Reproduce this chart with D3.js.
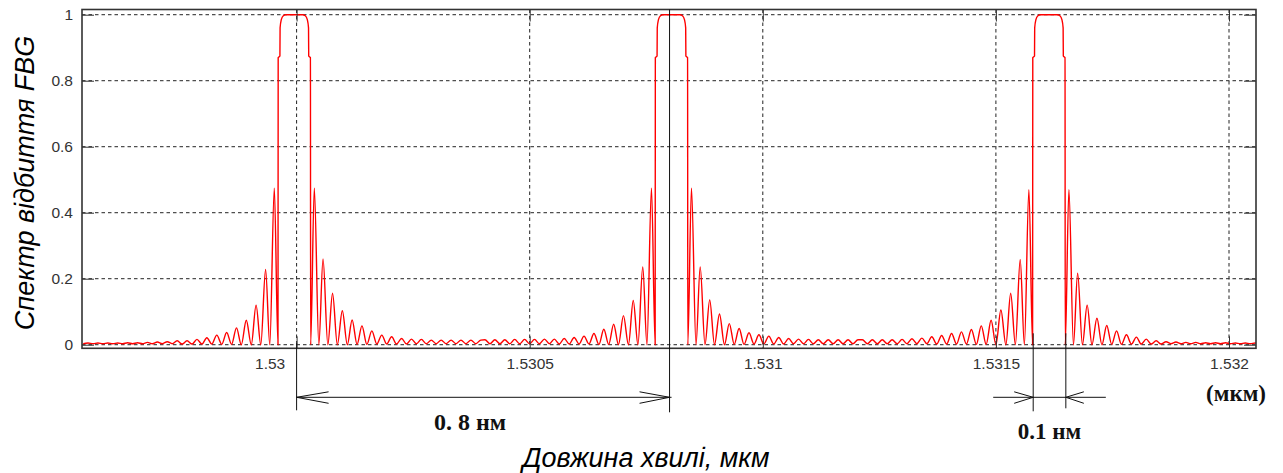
<!DOCTYPE html>
<html>
<head>
<meta charset="utf-8">
<script src="https://cdn.jsdelivr.net/npm/d3@7"></script>
<style>
  html, body { margin: 0; padding: 0; background: #fff; }
  svg { display: block; }
</style>
</head>
<body>
<svg id="chart"></svg>
<script>
// FBG reflection spectrum, three gratings 0.8 nm apart

// band centres, µm
const peakCentersUm = [1.5299951, 1.5308041, 1.5316137];

// flat top of each band: offset from band centre (nm) and reflectance
const mainOffsetsNm = [-0.0350, -0.0346, -0.0309, -0.0305, -0.0279, -0.0236, -0.0182,
                       0.0182, 0.0236, 0.0279, 0.0305, 0.0309, 0.0346, 0.0350];
const mainValues = [0.0, 0.87, 0.875, 0.96, 0.985, 0.997, 1.0,
                    1.0, 0.997, 0.985, 0.96, 0.875, 0.87, 0.0];

// side lobe maxima / minima, distance from band centre (nm)
const lobeOffsetsNm = [0.0429, 0.0616, 0.0820, 0.1030, 0.1240, 0.1451, 0.1663, 0.1876, 0.2088, 0.2301,
                       0.2513, 0.2725, 0.2938, 0.3150, 0.3363, 0.3575, 0.3788, 0.4000, 0.4213, 0.4425];
const nullOffsetsNm = [0.0526, 0.0719, 0.0923, 0.1137, 0.1346, 0.1556, 0.1770, 0.1981, 0.2193, 0.2406,
                       0.2618, 0.2833, 0.3043, 0.3255, 0.3468, 0.3680, 0.3893, 0.4105, 0.4318, 0.4528];
const nullValues = [0, 0, 0, 0, 0.001, 0.001, 0.002, 0.002, 0.002, 0.002,
                    0.003, 0.003, 0.003, 0.003, 0.003, 0.003, 0.003, 0.003, 0.003, 0.003];

// side lobe heights, from the band outward
const lobesLeft1 = [0.474, 0.228, 0.120, 0.074, 0.051, 0.037, 0.029, 0.021, 0.016, 0.012, 0.012, 0.009, 0.008, 0.007, 0.006, 0.006, 0.005, 0.005, 0.005, 0.005];
const lobesRight1 = [0.474, 0.260, 0.156, 0.103, 0.075, 0.057, 0.042, 0.029, 0.024, 0.019, 0.017, 0.016, 0.014, 0.014, 0.014, 0.014, 0.014, 0.014];
const lobesLeft2 = [0.474, 0.236, 0.134, 0.088, 0.062, 0.047, 0.034, 0.026, 0.022, 0.019, 0.017, 0.017, 0.016, 0.016, 0.016, 0.015, 0.015, 0.015];
const lobesRight2 = [0.474, 0.236, 0.136, 0.093, 0.064, 0.049, 0.036, 0.030, 0.026, 0.022, 0.019, 0.017, 0.016, 0.015, 0.015, 0.015, 0.015, 0.015];
const lobesLeft3 = [0.470, 0.258, 0.156, 0.105, 0.074, 0.057, 0.046, 0.039, 0.034, 0.028, 0.024, 0.020, 0.018, 0.016, 0.015, 0.015, 0.015, 0.015];
const lobesRight3 = [0.470, 0.217, 0.120, 0.080, 0.058, 0.042, 0.030, 0.023, 0.017, 0.012, 0.009, 0.008, 0.007, 0.007, 0.006, 0.006, 0.006, 0.005, 0.005, 0.005];
const lobesLeft = [lobesLeft1, lobesLeft2, lobesLeft3];
const lobesRight = [lobesRight1, lobesRight2, lobesRight3];

// axes
const xDomain = [1.5295397, 1.5320579];
const yDomain = [-0.0109, 1.0158];
const xTicks = [1.53, 1.5305, 1.531, 1.5315, 1.532];
const xTickLabels = ["1.53", "1.5305", "1.531", "1.5315", "1.532"];
const yTicks = [0, 0.2, 0.4, 0.6, 0.8, 1];
const yTickLabels = ["0", "0.2", "0.4", "0.6", "0.8", "1"];

// dimension marks under the plot
const spacingMarksUm = [1.5300, 1.5308];
const widthMarksUm = [1.53158, 1.53165];
const spacingLabel = "0. 8 нм";
const widthLabel = "0.1 нм";
const unitLabel = "(мкм)";
const xTitle = "Довжина хвилі, мкм";
const yTitle = "Спектр відбиття FBG";

const width = 1283, height = 473;
const margin = { top: 9.5, right: 27, bottom: 124.7, left: 82 };
const plotBottom = height - margin.bottom;
const plotRight = width - margin.right;

const svg = d3.select("#chart").attr("width", width).attr("height", height);

const x = d3.scaleLinear().domain(xDomain).range([margin.left, plotRight]);
const y = d3.scaleLinear().domain(yDomain).range([plotBottom, margin.top]);

const ink = "#333";
const sans = "'Liberation Sans', Arial, sans-serif";
const serif = "'Liberation Serif', 'Times New Roman', serif";

// grid
const grid = svg.append("g").attr("class", "grid")
    .attr("stroke", "#222").attr("stroke-width", 1).attr("stroke-dasharray", "3.5,3");
grid.selectAll(".gx").data(xTicks).enter().append("line")
    .attr("x1", d => x(d)).attr("x2", d => x(d))
    .attr("y1", margin.top).attr("y2", plotBottom);
grid.selectAll(".gy").data(yTicks).enter().append("line")
    .attr("x1", margin.left).attr("x2", plotRight)
    .attr("y1", d => y(d)).attr("y2", d => y(d));

// spectrum points: band top + side lobes, each band cut at the midpoint to its neighbours
const points = [];
peakCentersUm.forEach(function (c, i) {
    const lo = i > 0 ? (peakCentersUm[i - 1] + c) / 2 : -Infinity;
    const hi = i < peakCentersUm.length - 1 ? (peakCentersUm[i + 1] + c) / 2 : Infinity;
    const local = [];
    mainOffsetsNm.forEach(function (o, k) { local.push([c + o / 1000, mainValues[k]]); });
    lobesLeft[i].forEach(function (h, k) {
        local.push([c - lobeOffsetsNm[k] / 1000, h]);
        local.push([c - nullOffsetsNm[k] / 1000, nullValues[k]]);
    });
    lobesRight[i].forEach(function (h, k) {
        local.push([c + lobeOffsetsNm[k] / 1000, h]);
        local.push([c + nullOffsetsNm[k] / 1000, nullValues[k]]);
    });
    local.forEach(function (p) { if (p[0] > lo && p[0] < hi) points.push(p); });
});
points.sort((a, b) => a[0] - b[0]);

svg.append("clipPath").attr("id", "plot-clip").append("rect")
    .attr("x", margin.left).attr("y", margin.top)
    .attr("width", plotRight - margin.left).attr("height", plotBottom - margin.top);

const line = d3.line().x(d => x(d[0])).y(d => y(d[1])).curve(d3.curveMonotoneX);
svg.append("path")
    .datum(points)
    .attr("clip-path", "url(#plot-clip)")
    .attr("fill", "none")
    .attr("stroke", "#ff0000")
    .attr("stroke-width", 1.4)
    .attr("stroke-linejoin", "round")
    .attr("d", line);

// axes with inward ticks on all four sides
function styleAxis(g) {
    g.select(".domain").remove();
    g.selectAll(".tick line").attr("stroke", ink);
    g.selectAll(".tick text").attr("fill", ink).attr("font-family", sans).attr("font-size", "15.5px");
}
svg.append("g")
    .attr("transform", "translate(0," + plotBottom + ")")
    .call(d3.axisBottom(x).tickValues(xTicks).tickSizeInner(-12).tickSizeOuter(0).tickPadding(10)
        .tickFormat((d, i) => xTickLabels[i]))
    .call(styleAxis)
    // the original label of 1.53 sits left of its marker line
    .call(g => g.selectAll(".tick text").attr("dx", d => d === 1.53 ? -27 : 0));
svg.append("g")
    .attr("transform", "translate(0," + margin.top + ")")
    .call(d3.axisTop(x).tickValues(xTicks).tickSizeInner(-12).tickSizeOuter(0).tickFormat(""))
    .call(styleAxis);
svg.append("g")
    .attr("transform", "translate(" + margin.left + ",0)")
    .call(d3.axisLeft(y).tickValues(yTicks).tickSizeInner(-12).tickSizeOuter(0).tickPadding(9)
        .tickFormat((d, i) => yTickLabels[i]))
    .call(styleAxis);
svg.append("g")
    .attr("transform", "translate(" + plotRight + ",0)")
    .call(d3.axisRight(y).tickValues(yTicks).tickSizeInner(-12).tickSizeOuter(0).tickFormat(""))
    .call(styleAxis);

svg.append("rect")
    .attr("x", margin.left).attr("y", margin.top)
    .attr("width", plotRight - margin.left).attr("height", plotBottom - margin.top)
    .attr("fill", "none").attr("stroke", ink).attr("stroke-width", 1.6);

// dimension marks
const marks = svg.append("g").attr("stroke", "#111").attr("stroke-width", 1).attr("fill", "none");
const arrowY = plotBottom + 49;

function arrowHead(tipX, dir, len) {
    // dir = +1 points right, -1 points left
    marks.append("path")
        .attr("d", "M" + (tipX - dir * len) + "," + (arrowY - 5.5) + "L" + tipX + "," + arrowY +
            "L" + (tipX - dir * len) + "," + (arrowY + 6));
}

// 0.8 nm between neighbouring bands
marks.append("line")
    .attr("x1", x(spacingMarksUm[0])).attr("x2", x(spacingMarksUm[0]))
    .attr("y1", plotBottom - 5).attr("y2", plotBottom + 62);
marks.append("line")
    .attr("x1", x(spacingMarksUm[1])).attr("x2", x(spacingMarksUm[1]))
    .attr("y1", margin.top).attr("y2", plotBottom + 64);
marks.append("line")
    .attr("x1", x(spacingMarksUm[0])).attr("x2", x(spacingMarksUm[1]) + 2)
    .attr("y1", arrowY).attr("y2", arrowY);
arrowHead(x(spacingMarksUm[0]), -1, 32);
arrowHead(x(spacingMarksUm[1]), 1, 30);

// 0.1 nm band width
marks.append("line")
    .attr("x1", x(widthMarksUm[0])).attr("x2", x(widthMarksUm[0]))
    .attr("y1", plotBottom - 15).attr("y2", plotBottom + 63);
marks.append("line")
    .attr("x1", x(widthMarksUm[1])).attr("x2", x(widthMarksUm[1]))
    .attr("y1", plotBottom - 15).attr("y2", plotBottom + 60);
marks.append("line")
    .attr("x1", x(widthMarksUm[0]) - 40).attr("x2", x(widthMarksUm[1]) + 40)
    .attr("y1", arrowY).attr("y2", arrowY);
arrowHead(x(widthMarksUm[0]), 1, 19);
arrowHead(x(widthMarksUm[1]), -1, 18);

svg.append("text")
    .attr("x", (x(spacingMarksUm[0]) + x(spacingMarksUm[1])) / 2 - 13)
    .attr("y", plotBottom + 82)
    .attr("text-anchor", "middle")
    .attr("font-family", serif).attr("font-weight", "bold").attr("font-size", "24px")
    .attr("fill", "#111")
    .text(spacingLabel);

svg.append("text")
    .attr("x", (x(widthMarksUm[0]) + x(widthMarksUm[1])) / 2)
    .attr("y", plotBottom + 91)
    .attr("text-anchor", "middle")
    .attr("font-family", serif).attr("font-weight", "bold").attr("font-size", "23px")
    .attr("fill", "#111")
    .text(widthLabel);

svg.append("text")
    .attr("x", plotRight + 10)
    .attr("y", plotBottom + 53)
    .attr("text-anchor", "end")
    .attr("font-family", serif).attr("font-weight", "bold").attr("font-size", "23px")
    .attr("fill", "#111")
    .text(unitLabel);

// axis titles
svg.append("text")
    .attr("x", (margin.left + plotRight) / 2 - 23)
    .attr("y", height - 6)
    .attr("text-anchor", "middle")
    .attr("font-family", sans).attr("font-style", "italic").attr("font-size", "27px")
    .attr("fill", "#000")
    .text(xTitle);

svg.append("text")
    .attr("transform", "translate(34," + ((margin.top + plotBottom) / 2 + 4) + ") rotate(-90)")
    .attr("text-anchor", "middle")
    .attr("font-family", sans).attr("font-style", "italic").attr("font-size", "27px")
    .attr("fill", "#000")
    .text(yTitle);
</script>
</body>
</html>
